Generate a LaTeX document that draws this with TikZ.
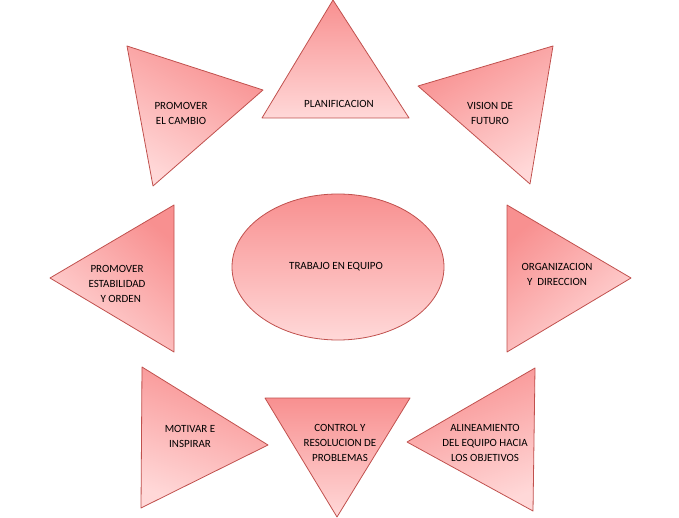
\documentclass[tikz,border=0pt]{standalone}
\usepackage{fontspec}
\setmainfont{Carlito}
\usetikzlibrary{positioning}
\definecolor{edgecol}{HTML}{C0504D}
\definecolor{darkfill}{HTML}{F89090}
\definecolor{lightfill}{HTML}{FFD8D8}
\tikzset{
  piece/.style={draw=edgecol,line width=0.8pt,line join=round,
                top color=darkfill,bottom color=lightfill,shading angle=20},
  label/.style={font=\fontsize{11}{15}\selectfont,align=center,text=black}
}

\begin{document}
\begin{tikzpicture}[x=1pt,y=-1pt]
  \useasboundingbox (0,0) rectangle (679,518);

  % CENTER
  \draw[piece,shading angle=0] (338,267) ellipse [x radius=106,y radius=73];
  \node[label] (center) at (336,267) {TRABAJO EN EQUIPO};

  % TRIANGLES
  \draw[piece,shading angle=0]  (333,0) -- (409,118) -- (262,118) -- cycle;
  \draw[piece,shading angle=-30] (127,46) -- (263,90) -- (153,186) -- cycle;
  \draw[piece,shading angle=30] (553,46) -- (530,184) -- (418,86) -- cycle;
  \draw[piece,shading angle=-40] (174,205) -- (174,352) -- (50,278) -- cycle;
  \draw[piece,shading angle=40] (507,205) -- (631,278) -- (507,352) -- cycle;
  \draw[piece,shading angle=-20] (142,367) -- (268,445) -- (141,508) -- cycle;
  \draw[piece,shading angle=0]  (265,398) -- (410,398) -- (337,517) -- cycle;
  \draw[piece,shading angle=20] (535,368) -- (533,511) -- (407,442) -- cycle;

  % LABELS
  \node[label] (plan)  at (339,104) {PLANIFICACION};
  \node[label] (cambio) at (181,113) {PROMOVER\\EL CAMBIO};
  \node[label] (vision) at (490,113) {VISION DE\\FUTURO};
  \node[label] (orden) at (117,284) {PROMOVER\\ESTABILIDAD\\\ \ \ Y ORDEN};
  \node[label] (org)   at (557,274) {ORGANIZACION\\Y\ \ DIRECCION};
  \node[label] (motiv) at (190,436) {MOTIVAR E\\INSPIRAR};
  \node[label] (ctrl)  at (340,443) {CONTROL Y\\RESOLUCION DE\\PROBLEMAS};
  \node[label] (alin)  at (485,443) {ALINEAMIENTO\\DEL EQUIPO HACIA\\LOS OBJETIVOS};
\end{tikzpicture}
\end{document}
